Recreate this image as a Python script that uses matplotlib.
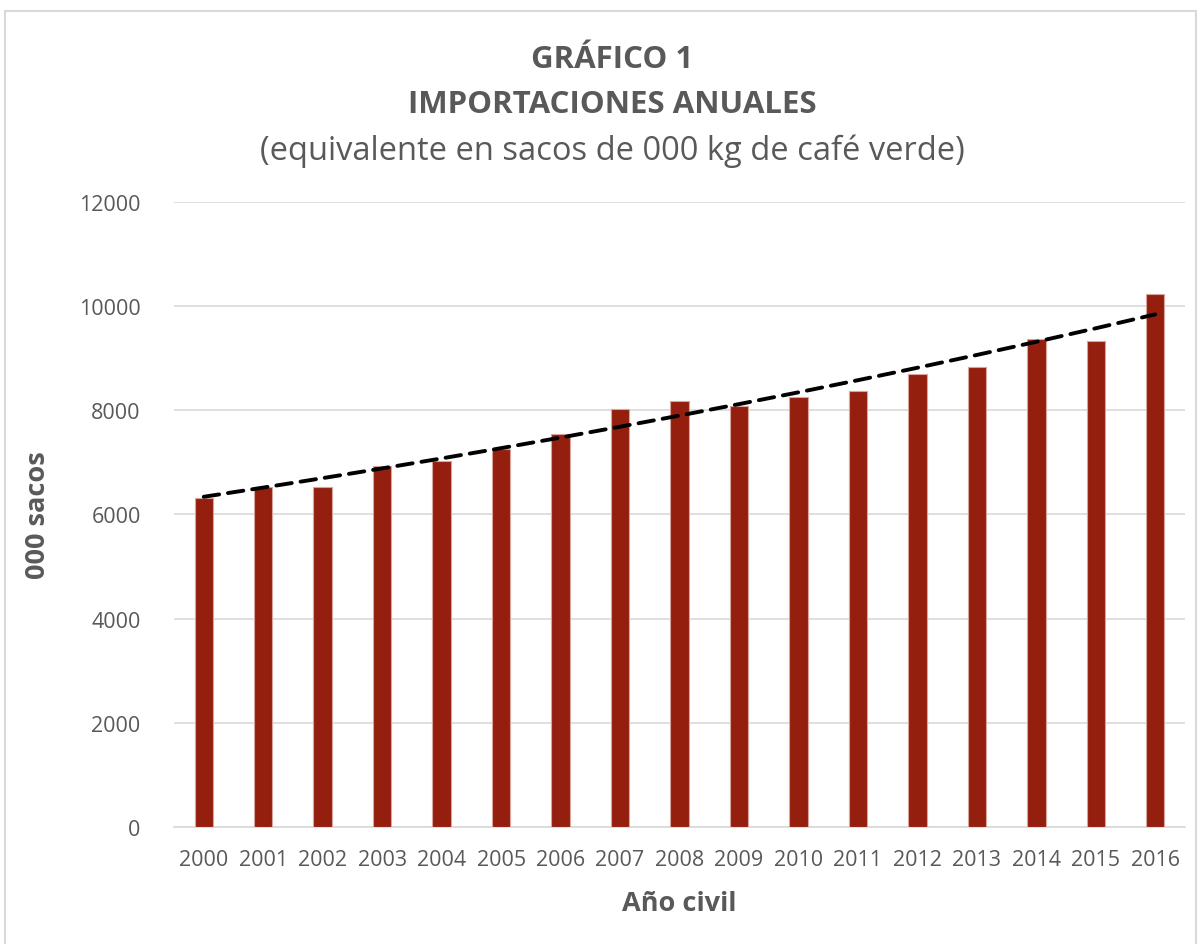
import numpy as np
import matplotlib.pyplot as plt
from matplotlib.patches import Rectangle

# Datos
anios = ['2000', '2001', '2002', '2003', '2004', '2005', '2006', '2007', '2008',
         '2009', '2010', '2011', '2012', '2013', '2014', '2015', '2016']
sacos = [6310, 6530, 6530, 6930, 7030, 7260, 7550, 8030, 8180,
         8090, 8260, 8370, 8700, 8830, 9370, 9330, 10240]

gris = '#595959'
plt.rcParams['font.family'] = ['Open Sans', 'DejaVu Sans']

fig = plt.figure(figsize=(12, 9.45), dpi=100)
ax = fig.add_axes([0.145, 0.1238, 0.8425, 0.6614])

x = np.arange(len(anios))
ax.bar(x, sacos, width=0.31, color='#941f0f', edgecolor='#d9a49c', linewidth=0.8, zorder=3)

# linea de tendencia exponencial (ajuste sobre los datos)
xx = x + 1
b, a = np.polyfit(xx, np.log(sacos), 1)
tend = np.exp(a) * np.exp(b * xx)
ax.plot(x, tend, color='black', linestyle=(0, (4.0, 2.3)), linewidth=2.8,
        solid_capstyle='round', dash_capstyle='round', zorder=4)

ax.set_xlim(-0.5, len(anios) - 0.5)
ax.set_ylim(0, 12000)
ax.set_yticks(np.arange(0, 12001, 2000))
ax.set_xticks(x)
ax.set_xticklabels(anios)
ax.grid(axis='y', color='#d9d9d9', linewidth=1.2, zorder=0)
ax.tick_params(axis='both', length=0, labelsize=15.5, colors=gris)
ax.tick_params(axis='x', pad=16)
ax.tick_params(axis='y', pad=24)
for s in ['top', 'right', 'left']:
    ax.spines[s].set_visible(False)
ax.spines['bottom'].set_color('#d9d9d9')
ax.spines['bottom'].set_linewidth(1.2)

ax.set_xlabel('Año civil', fontsize=19.5, fontweight='bold', color=gris, labelpad=14)
ax.set_ylabel('000 sacos', fontsize=19.5, fontweight='bold', color=gris, labelpad=20)

fig.text(0.51, 0.936, 'GRÁFICO 1', ha='center', va='center', fontsize=22.5,
         fontweight='bold', color=gris)
fig.text(0.51, 0.889, 'IMPORTACIONES ANUALES', ha='center', va='center', fontsize=22.5,
         fontweight='bold', color=gris)
fig.text(0.51, 0.840, '(equivalente en sacos de 000 kg de café verde)', ha='center',
         va='center', fontsize=23.5, color=gris)

# marco del grafico
fig.patches.append(Rectangle((0.004, -0.01), 0.993, 0.997, transform=fig.transFigure,
                             fill=False, edgecolor='#d9d9d9', linewidth=1.5))

plt.savefig('out.png', dpi=100)
